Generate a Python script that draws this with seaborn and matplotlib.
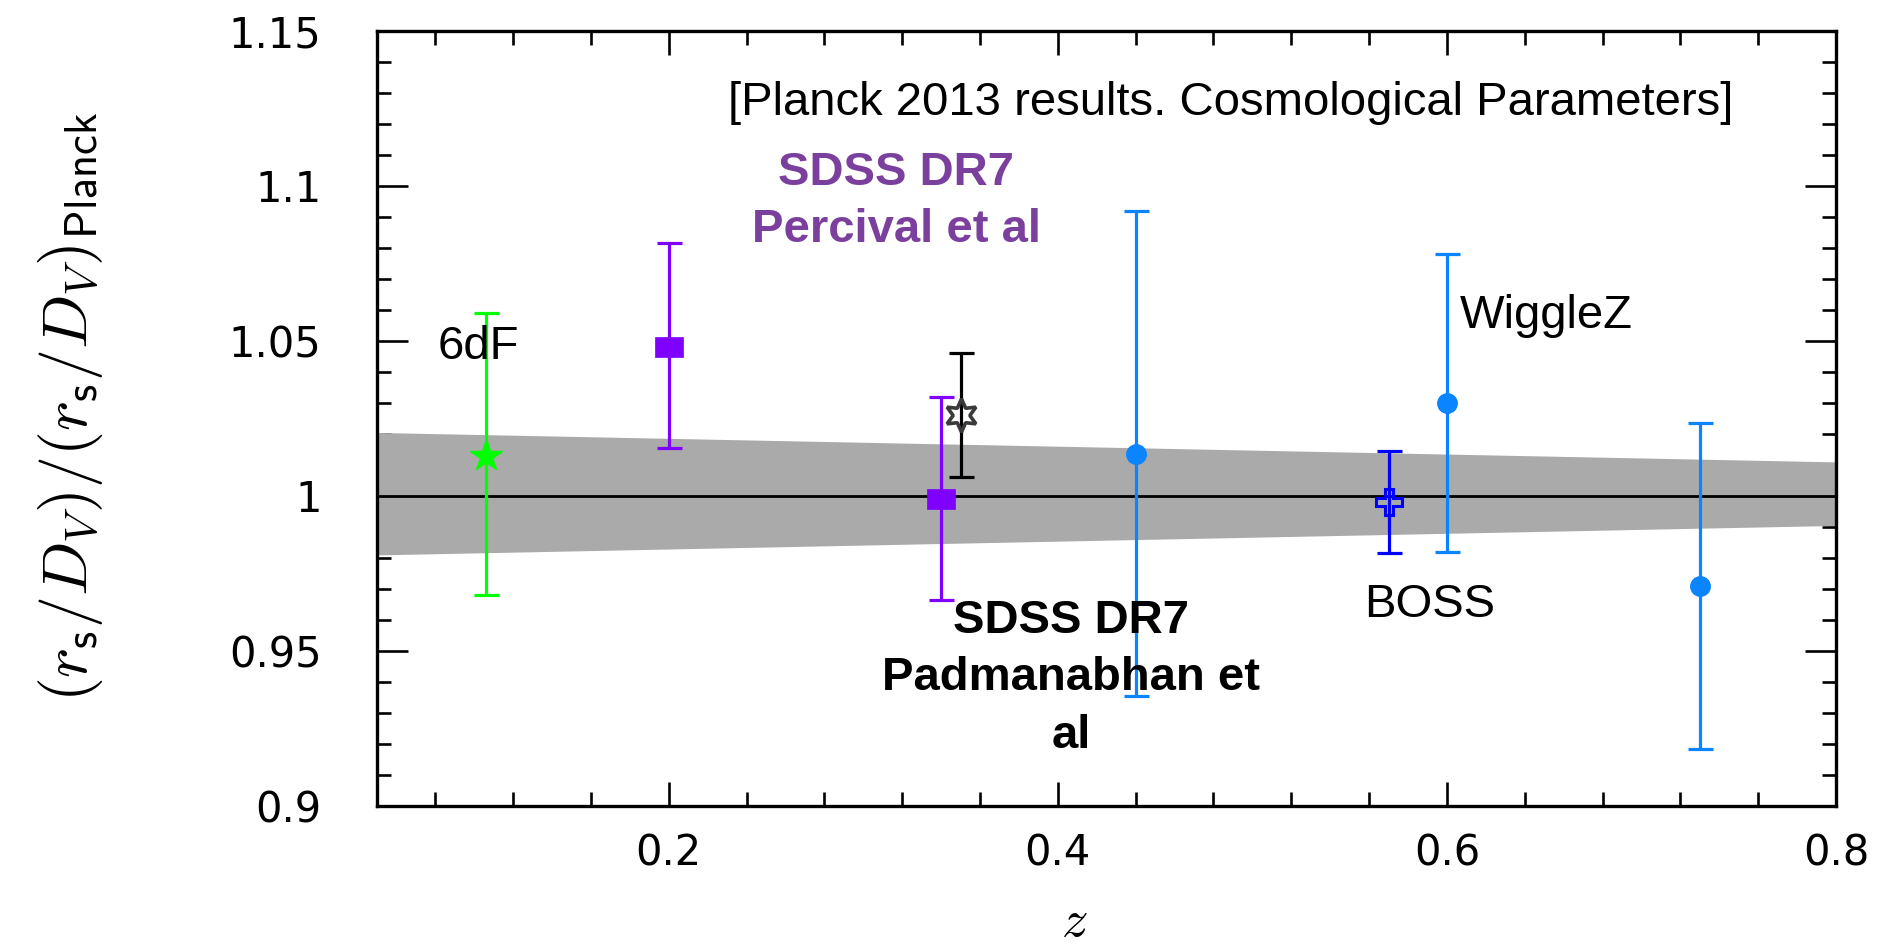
import matplotlib
matplotlib.use("Agg")
import matplotlib.pyplot as plt
import seaborn as sns
from matplotlib.ticker import FixedLocator, MultipleLocator

# BAO distance ratios relative to the Planck 2013 best fit
survey = ["6dF", "SDSS DR7 Percival", "SDSS DR7 Percival", "SDSS DR7 Padmanabhan",
          "WiggleZ", "BOSS", "WiggleZ", "WiggleZ"]
z_eff = [0.106, 0.20, 0.34, 0.35, 0.44, 0.57, 0.60, 0.73]
ratio = [1.013, 1.048, 0.999, 1.026, 1.0135, 0.998, 1.030, 0.971]
err_low = [0.045, 0.0325, 0.0325, 0.020, 0.078, 0.0165, 0.048, 0.0525]
err_high = [0.046, 0.0335, 0.033, 0.020, 0.0785, 0.0165, 0.048, 0.0525]

# Planck 1-sigma prediction band
band_z = [0.05, 0.80]
band_low = [0.981, 0.9905]
band_high = [1.0205, 1.011]
reference = [1.0, 1.0]

y_ticks = [0.9, 0.95, 1.0, 1.05, 1.1, 1.15]
y_tick_labels = ["0.9", "0.95", "1", "1.05", "1.1", "1.15"]
x_ticks = [0.2, 0.4, 0.6, 0.8]
x_tick_labels = ["0.2", "0.4", "0.6", "0.8"]

# a slightly wide box for the SDSS DR7 points
wide_box = [(-1.4, -1.0), (1.4, -1.0), (1.4, 1.0), (-1.4, 1.0), (-1.4, -1.0)]

# marker style per measurement: (marker, color, filled, size, edge width)
styles = {
    0: ("*", "#00ff00", True, 24, 1.0),
    1: (wide_box, "#8000ff", True, 20, 0.5),
    2: (wide_box, "#8000ff", True, 20, 0.5),
    3: ((6, 1, 0), "#3a3a3a", False, 24, 2.6),
    4: ("o", "#0a84ff", True, 14, 1.0),
    5: ("P", "#0000ff", False, 19, 2.2),
    6: ("o", "#0a84ff", True, 14, 1.0),
    7: ("o", "#0a84ff", True, 14, 1.0),
}
bar_colors = ["#00ff00", "#8000ff", "#8000ff", "#000000",
              "#0a84ff", "#0000ff", "#0a84ff", "#0a84ff"]

sns.set_theme(style="ticks")
plt.rcParams["font.family"] = ["Liberation Sans", "DejaVu Sans"]
plt.rcParams["mathtext.fontset"] = "cm"
plt.rcParams["text.color"] = "black"
plt.rcParams["axes.labelcolor"] = "black"

fig = plt.figure(figsize=(18.92, 9.49), dpi=100)
W, H = 1892, 949
left, right, top, bottom = 377, 1836, 31, 806
ax = fig.add_axes([left / W, 1 - bottom / H, (right - left) / W, (bottom - top) / H])
ax.set_facecolor("white")

ax.fill_between(band_z, band_low, band_high, color="#aaaaaa", lw=0, zorder=1)
sns.lineplot(x=band_z, y=reference, color="black", linewidth=2.0, ax=ax, zorder=2)

for i, (z, r, lo, hi) in enumerate(zip(z_eff, ratio, err_low, err_high)):
    m, c, filled, ms, mew = styles[i]
    ax.errorbar([z], [r], yerr=[[lo], [hi]], fmt="none", ecolor=bar_colors[i],
                elinewidth=2.3, capsize=9, capthick=2.3, zorder=3)
    ax.plot([z], [r], linestyle="none", marker=m, markersize=ms,
            markerfacecolor=c if filled else "none", markeredgecolor=c,
            markeredgewidth=mew, zorder=4)

ax.set_xlim(0.05, 0.8)
ax.set_ylim(0.9, 1.15)

ax.xaxis.set_major_locator(FixedLocator(x_ticks))
ax.set_xticklabels(x_tick_labels)
ax.xaxis.set_minor_locator(MultipleLocator(0.04))
ax.yaxis.set_major_locator(FixedLocator(y_ticks))
ax.set_yticklabels(y_tick_labels)
ax.yaxis.set_minor_locator(MultipleLocator(0.01))

for lab in ax.get_xticklabels() + ax.get_yticklabels():
    lab.set_fontfamily("DejaVu Sans")
    lab.set_fontsize(30)
    lab.set_color("black")

ax.tick_params(which="both", direction="in", top=True, right=True,
               width=1.9, color="black")
ax.tick_params(axis="y", which="major", length=22, pad=40)
ax.tick_params(axis="x", which="major", length=17.5, pad=19)
ax.tick_params(which="minor", length=10)
for sp in ax.spines.values():
    sp.set_linewidth(2.4)
    sp.set_color("black")

ax.set_ylabel(r"$(r_{\mathsf{s}}/D_{V})/(r_{\mathsf{s}}/D_{V})_{\mathsf{Planck}}$",
              fontsize=46)
ax.yaxis.set_label_coords(-0.210, 0.515)
ax.yaxis.label.set_va("center")
ax.set_xlabel(r"$z$", fontsize=38)
ax.xaxis.set_label_coords(0.478, -0.150)
ax.xaxis.label.set_va("center")

# survey annotations
ax.text(0.489, 1.1229, "[Planck 2013 results. Cosmological Parameters]",
        fontsize=34, ha="center", va="baseline", color="black")
ax.text(0.102, 1.0442, "6dF", fontsize=34, ha="center", va="baseline", color="black")
ax.text(0.651, 1.0542, "WiggleZ", fontsize=34, ha="center", va="baseline", color="black")
ax.text(0.591, 0.961, "BOSS", fontsize=34, ha="center", va="baseline", color="black")

percival_lines = ["SDSS DR7", "Percival et al"]
percival_base = [1.1003, 1.0819]
for txt, yb in zip(percival_lines, percival_base):
    ax.text(0.317, yb, txt, fontsize=34, fontweight="bold", color="#7b3f9e",
            ha="center", va="baseline")

padman_lines = ["SDSS DR7", "Padmanabhan et", "al"]
padman_base = [0.9558, 0.9374, 0.9187]
for txt, yb in zip(padman_lines, padman_base):
    ax.text(0.407, yb, txt, fontsize=34, fontweight="bold", color="black",
            ha="center", va="baseline", zorder=5)

fig.savefig("out.png", dpi=100, facecolor="white")
